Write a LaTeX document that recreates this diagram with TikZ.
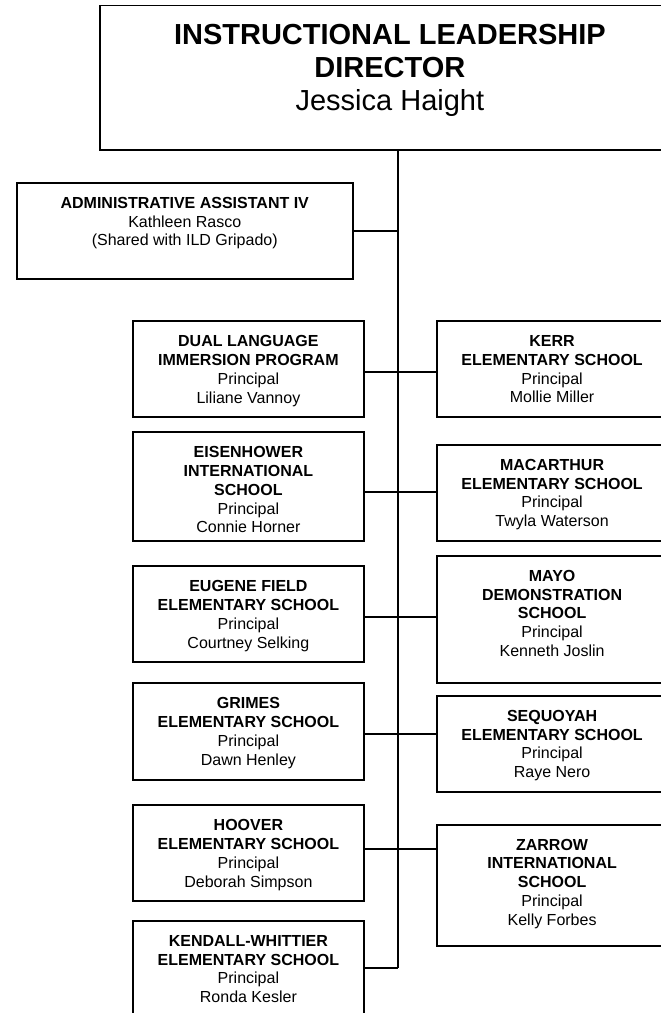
\documentclass[tikz,border=0pt]{standalone}
\usepackage{fontspec}
\setmainfont{Liberation Sans}
\begin{document}
\begin{tikzpicture}[x=1pt,y=-1pt,
  box/.style={draw, line width=1.8pt, inner sep=0pt, anchor=north west},
  txt/.style={anchor=north, align=center, inner sep=0pt, font=\fontsize{16}{18.8}\selectfont},
  bigtxt/.style={anchor=north, align=center, inner sep=0pt, font=\fontsize{29}{33}\selectfont},
  conn/.style={line width=1.8pt}]
\useasboundingbox (0,0) rectangle (661,1013);
% top box
\node[box, minimum width=580pt, minimum height=144.5pt] (top) at (99,4.5) {};
\node[bigtxt] (top-t) at ([yshift=-19.5pt]top.north) {\textbf{INSTRUCTIONAL LEADERSHIP}\\\textbf{DIRECTOR}\\Jessica Haight};
% admin box
\node[box, minimum width=336.3pt, minimum height=96pt] (admin) at (15.7,182) {};
\node[txt] (admin-t) at ([yshift=-15pt]admin.north) {\textbf{ADMINISTRATIVE ASSISTANT IV}\\Kathleen Rasco\\(Shared with ILD Gripado)};
% left column
\node[box, minimum width=231pt, minimum height=96pt] (dual) at (132,320.3) {};
\node[txt] (dual-t) at ([yshift=-15pt]dual.north) {\textbf{DUAL LANGUAGE}\\\textbf{IMMERSION PROGRAM}\\Principal\\Liliane Vannoy};
\node[box, minimum width=231pt, minimum height=108.7pt] (eisen) at (132,431.3) {};
\node[txt] (eisen-t) at ([yshift=-15pt]eisen.north) {\textbf{EISENHOWER}\\\textbf{INTERNATIONAL}\\\textbf{SCHOOL}\\Principal\\Connie Horner};
\node[box, minimum width=231pt, minimum height=96pt] (eugene) at (132,565.3) {};
\node[txt] (eugene-t) at ([yshift=-15pt]eugene.north) {\textbf{EUGENE FIELD}\\\textbf{ELEMENTARY SCHOOL}\\Principal\\Courtney Selking};
\node[box, minimum width=231pt, minimum height=96.4pt] (grimes) at (132,682.3) {};
\node[txt] (grimes-t) at ([yshift=-15pt]grimes.north) {\textbf{GRIMES}\\\textbf{ELEMENTARY SCHOOL}\\Principal\\Dawn Henley};
\node[box, minimum width=231pt, minimum height=95.7pt] (hoover) at (132,804.3) {};
\node[txt] (hoover-t) at ([yshift=-15pt]hoover.north) {\textbf{HOOVER}\\\textbf{ELEMENTARY SCHOOL}\\Principal\\Deborah Simpson};
\node[box, minimum width=231pt, minimum height=110pt] (kendall) at (132,920) {};
\node[txt] (kendall-t) at ([yshift=-15pt]kendall.north) {\textbf{KENDALL-WHITTIER}\\\textbf{ELEMENTARY SCHOOL}\\Principal\\Ronda Kesler};
% right column
\node[box, minimum width=231pt, minimum height=95.7pt] (kerr) at (435.7,320.3) {};
\node[txt] (kerr-t) at ([yshift=-15pt]kerr.north) {\textbf{KERR}\\\textbf{ELEMENTARY SCHOOL}\\Principal\\Mollie Miller};
\node[box, minimum width=231pt, minimum height=96pt] (macarthur) at (435.7,444) {};
\node[txt] (macarthur-t) at ([yshift=-15pt]macarthur.north) {\textbf{MACARTHUR}\\\textbf{ELEMENTARY SCHOOL}\\Principal\\Twyla Waterson};
\node[box, minimum width=231pt, minimum height=127.3pt] (mayo) at (435.7,555) {};
\node[txt] (mayo-t) at ([yshift=-15pt]mayo.north) {\textbf{MAYO}\\\textbf{DEMONSTRATION}\\\textbf{SCHOOL}\\Principal\\Kenneth Joslin};
\node[box, minimum width=231pt, minimum height=95.7pt] (sequoyah) at (435.7,695) {};
\node[txt] (sequoyah-t) at ([yshift=-15pt]sequoyah.north) {\textbf{SEQUOYAH}\\\textbf{ELEMENTARY SCHOOL}\\Principal\\Raye Nero};
\node[box, minimum width=231pt, minimum height=121.3pt] (zarrow) at (435.7,823.7) {};
\node[txt] (zarrow-t) at ([yshift=-15pt]zarrow.north) {\textbf{ZARROW}\\\textbf{INTERNATIONAL}\\\textbf{SCHOOL}\\Principal\\Kelly Forbes};
% junctions on the trunk
\coordinate (j0) at (398,230.7);
\coordinate (j1) at (398,372);
\coordinate (j2) at (398,492);
\coordinate (j3) at (398,617.2);
\coordinate (j4) at (398,734);
\coordinate (j5) at (398,849);
\coordinate (j6) at (398,968.3);
% connectors
\draw[conn] (top.south -| j0) -- (j6);
\draw[conn] (admin.east |- j0) -- (j0);
\draw[conn] (dual.east |- j1) -- (kerr.west |- j1);
\draw[conn] (eisen.east |- j2) -- (macarthur.west |- j2);
\draw[conn] (eugene.east |- j3) -- (mayo.west |- j3);
\draw[conn] (grimes.east |- j4) -- (sequoyah.west |- j4);
\draw[conn] (hoover.east |- j5) -- (zarrow.west |- j5);
\draw[conn] (kendall.east |- j6) -- (j6);
\end{tikzpicture}
\end{document}
